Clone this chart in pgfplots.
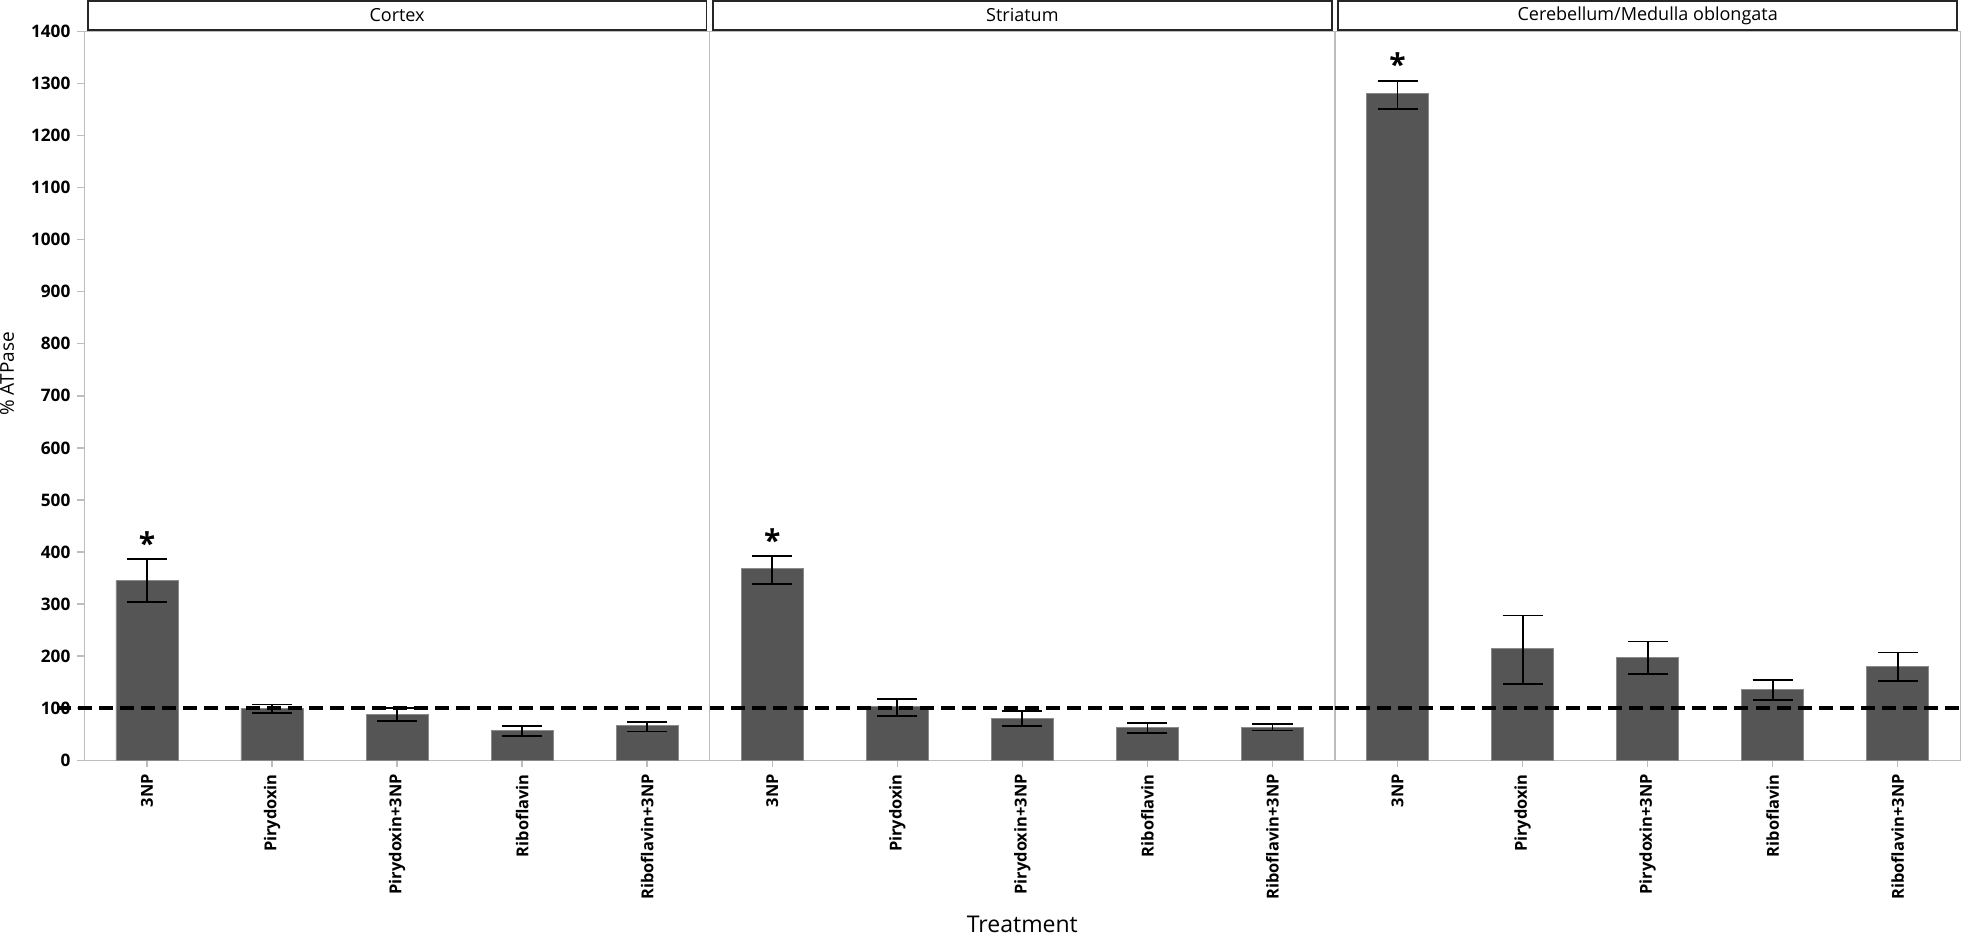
\documentclass[border=0pt]{standalone}
\usepackage{pgfplots}
\pgfplotsset{compat=1.18}
\usepackage{pgfplotstable}
\usepackage{fontspec}
\setmainfont{Open Sans}
\definecolor{barfill}{HTML}{555555}
\definecolor{baredge}{HTML}{8A8A8A}
\definecolor{axisgray}{HTML}{BDBDBD}

\pgfplotstableread{
x y ep em
1 345 41 41
2 99 8 9
3 88 12 12
4 58 8 11
5 66 7 11
}\cortex
\pgfplotstableread{
x y ep em
1 368 24 30
2 103 14 18
3 81 13 15
4 63 9 11
5 63 7 6
}\striatum
\pgfplotstableread{
x y ep em
1 1280 25 29
2 214 64 68
3 197 31 32
4 136 18 21
5 180 27 28
}\cerebellum

\pgfplotsset{
  panel/.style={
    width=312.3pt, height=364pt, scale only axis,
    xmin=0.5, xmax=5.5, ymin=0, ymax=1400,
    axis line style={draw=axisgray, line width=0.7pt},
    xtick={1,2,3,4,5},
    xticklabels={3NP,Pirydoxin,Pirydoxin+3NP,Riboflavin,Riboflavin+3NP},
    xtick pos=bottom, ytick pos=left,
    tick align=outside, major tick length=3.5pt,
    tick style={draw=axisgray, line width=0.7pt},
    xticklabel style={rotate=90, anchor=east, font=\bfseries\fontsize{8.2}{10}\selectfont},
    yticklabel style={font=\bfseries\fontsize{8.6}{10}\selectfont},
    /pgf/number format/assume math mode=true,
    /pgf/number format/1000 sep={},
    every axis title/.style={at={(0.5,1)}, anchor=south, draw=black!85, line width=0.9pt,
      minimum width=309pt, minimum height=14.5pt, inner sep=0pt, yshift=0.3pt,
      font=\fontsize{9}{10}\selectfont},
    xlabel style={font=\fontsize{11.5}{13}\selectfont, inner sep=1pt, yshift=-3.5pt},
  },
  bars/.style={ybar, bar width=31pt, bar shift=0pt, fill=barfill, draw=baredge, line width=0.4pt,
    error bars/.cd, y dir=both, y explicit,
    error bar style={black, line width=0.9pt},
    error mark options={rotate=90, mark size=10pt, line width=0.9pt, black}},
  refline/.style={black, line width=2pt, dash pattern=on 7pt off 3.5pt},
  star/.style={draw=none, nodes near coords={*}, nodes near coords align=vertical,
    every node near coord/.append style={font=\bfseries\fontsize{15}{15}\selectfont, anchor=south, yshift=-1pt, black}},
}

\begin{document}
\begin{tikzpicture}
\begin{axis}[panel, name=a1, at={(0pt,0pt)}, anchor=south west, clip=false,
  ytick={0,100,...,1400}, title={Cortex}, ylabel={\% ATPase},
  ylabel style={font=\fontsize{9.5}{11}\selectfont, inner sep=0pt, yshift=5pt, xshift=11pt}]
  \addplot[bars] table[x=x, y=y, y error plus=ep, y error minus=em] {\cortex};
  \addplot[refline] coordinates {(0.28,100) (5.5,100)};
  \addplot[star] coordinates {(1,386)};
\end{axis}
\begin{axis}[panel, name=a2, at={(312.3pt,0pt)}, anchor=south west,
  ytick=\empty, title={Striatum}, xlabel={Treatment}]
  \addplot[bars] table[x=x, y=y, y error plus=ep, y error minus=em] {\striatum};
  \addplot[refline] coordinates {(0.5,100) (5.5,100)};
  \addplot[star] coordinates {(1,392)};
\end{axis}
\begin{axis}[panel, name=a3, at={(624.6pt,0pt)}, anchor=south west,
  ytick=\empty, title={Cerebellum/Medulla oblongata}]
  \addplot[bars] table[x=x, y=y, y error plus=ep, y error minus=em] {\cerebellum};
  \addplot[refline] coordinates {(0.5,100) (5.5,100)};
  \addplot[star] coordinates {(1,1305)};
\end{axis}
\end{tikzpicture}
\end{document}
